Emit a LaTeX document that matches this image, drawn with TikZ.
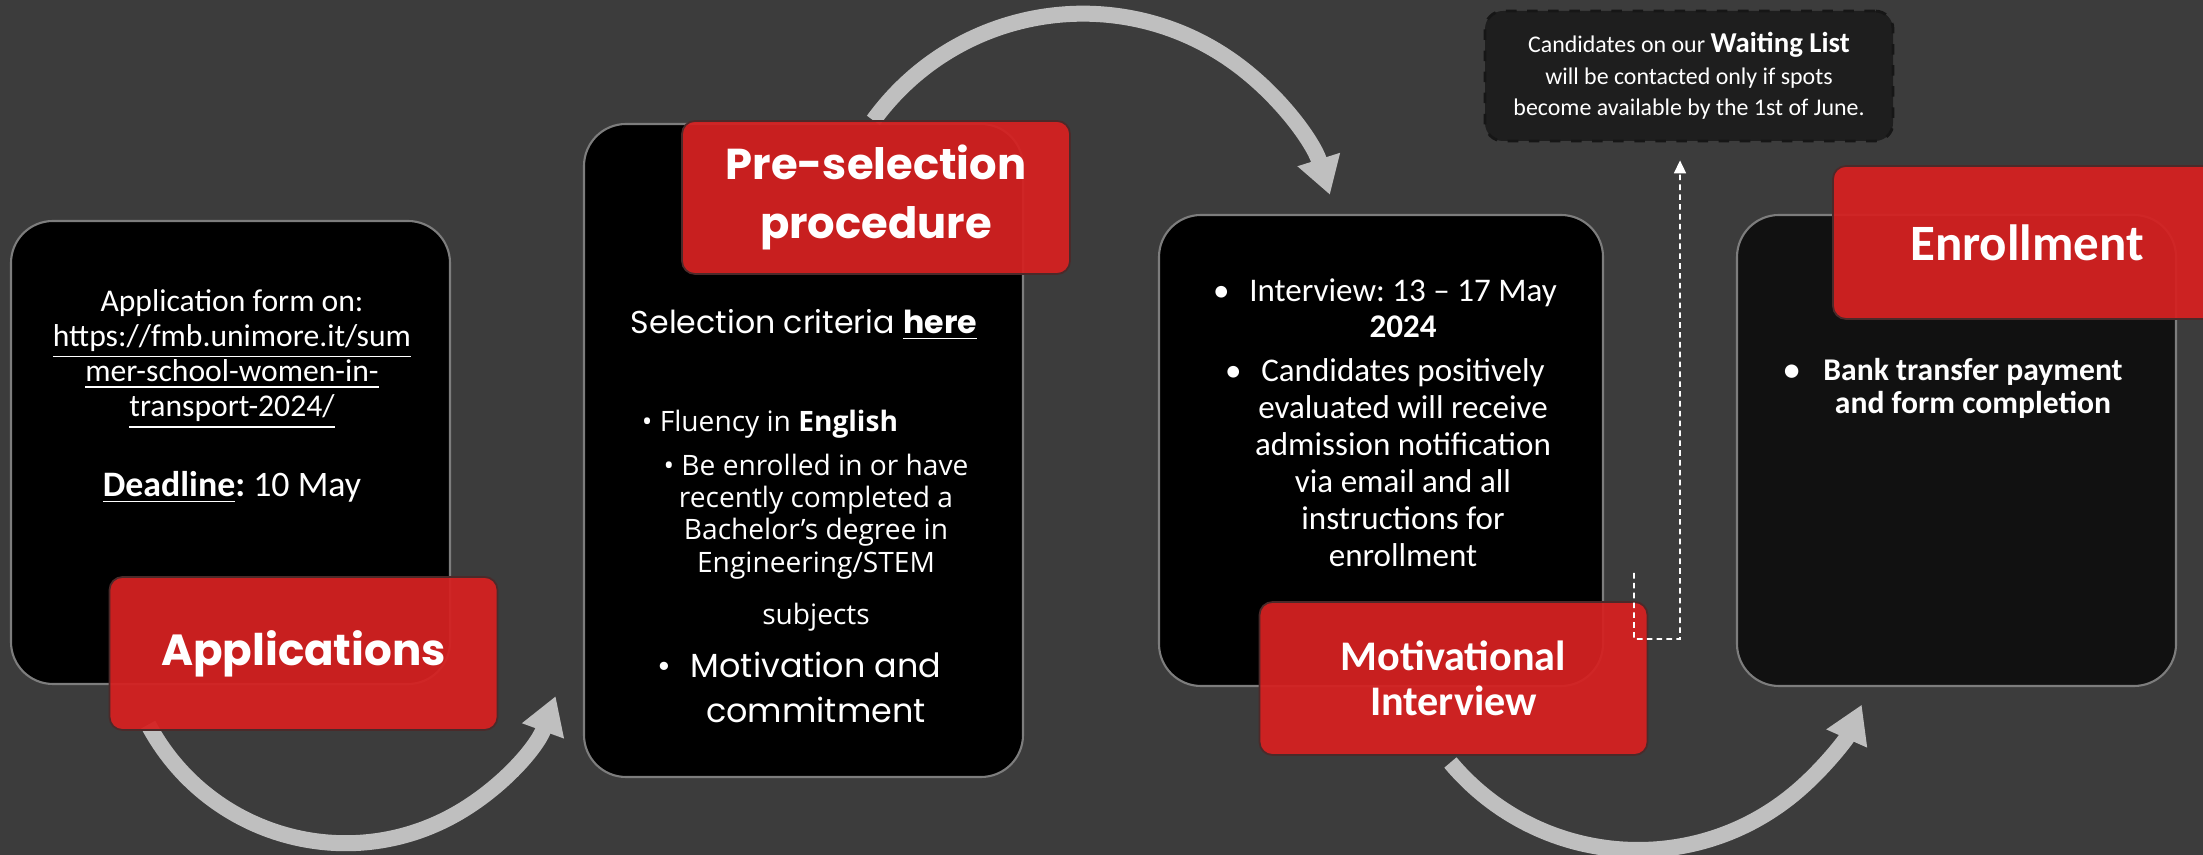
\documentclass[tikz,border=0pt]{standalone}
\usepackage{fontspec}
\setmainfont{Carlito}
\newfontfamily\popfont{Poppins}
\newfontfamily\opsfont{Open Sans}
\usetikzlibrary{arrows.meta}
\frenchspacing

\definecolor{bgcol}{RGB}{60,60,60}
\definecolor{cardred}{RGB}{213,33,33}
\definecolor{tagline}{RGB}{75,42,42}
\definecolor{cardline}{RGB}{125,125,125}
\definecolor{flowgray}{RGB}{191,191,191}
\definecolor{waitfill}{RGB}{30,30,30}
\definecolor{waitline}{RGB}{22,22,22}
\definecolor{enrolfill}{RGB}{17,17,17}

\tikzset{
	card/.style={draw=cardline, line width=0.6pt, fill=black, rounded corners=0.42cm, inner sep=0pt},
	tag/.style={fill=cardred, fill opacity=0.94, text opacity=1, draw=tagline, line width=0.5pt, rounded corners=0.13cm, minimum width=3.88cm, minimum height=1.53cm, text=white, align=center, inner sep=0pt},
	waitbox/.style={fill=waitfill, draw=waitline, dashed, line width=0.8pt, rounded corners=0.18cm, text=white, align=center, inner sep=0pt},
	flow/.style={draw=flowgray, line width=0.16cm, -{Triangle[length=0.37cm,width=0.42cm]}},
	dashlink/.style={draw=white, line width=0.45pt, dash pattern=on 1.6pt off 1.2pt, -{Triangle[length=1.3mm,width=1.2mm]}},
	txt/.style={text=white, align=center, inner sep=0pt}
}

\begin{document}
\begin{tikzpicture}
			%%%%% START %%%%%
			
			\useasboundingbox (0,0) rectangle (22.03,8.55);
			\clip (0,0) rectangle (22.03,8.55);
			\fill[bgcol] (0,0) rectangle (22.03,8.55);
			
			% black cards
			\node[card, minimum width=4.39cm, minimum height=4.63cm] (apply) at (2.305,4.025) {};
			\node[card, minimum width=4.39cm, minimum height=6.53cm] (presel) at (8.035,4.045) {};
			\node[card, minimum width=4.44cm, minimum height=4.71cm] (interv) at (13.81,4.045) {};
			\node[card, fill=enrolfill, minimum width=4.39cm, minimum height=4.71cm] (enrol) at (19.565,4.045) {};
			
			\node[waitbox, minimum width=4.08cm, minimum height=1.30cm, font=\fontsize{6.8}{8.9}\selectfont] (wait) at (16.89,7.79)
				{Candidates on our {\fontsize{8.2}{8.9}\selectfont\textbf{Waiting List}}\\ will be contacted only if spots\\ become available by the 1st of June.};
			
			% grey arrows
			\coordinate (arcA) at (3.456,2.353);
			\coordinate (arcB) at (10.829,5.823);
			\coordinate (arcC) at (16.38,2.499);
			\draw[flow] (arcA) ++(208:2.235) arc[start angle=208, end angle=340, radius=2.235];
			\draw[flow] (arcB) ++(144:2.59) arc[start angle=144, end angle=17.5, radius=2.59];
			\draw[flow] (arcC) ++(220:2.449) arc[start angle=220, end angle=336, radius=2.449];
			
			% red tags
			\node[tag, font=\popfont\bfseries\fontsize{12.4}{15}\selectfont] (applytag) at (3.035,2.015) {Applications};
			\node[tag, font=\popfont\bfseries\fontsize{12.3}{16.8}\selectfont] (preseltag) at (8.76,6.575) {Pre-selection\\procedure};
			\node[tag, font=\bfseries\fontsize{12}{12.8}\selectfont] (intervtag) at (14.535,1.765) {Motivational\\Interview};
			\node[tag, font=\bfseries\fontsize{14.5}{16}\selectfont] (enroltag) at (20.27,6.125) {Enrollment};
			
			% waiting list link
			\coordinate (wstart) at (16.34,2.82);
			\coordinate (wbend) at (16.80,2.16);
			\draw[dashlink] (wstart) |- (wbend) -- ([xshift=-0.09cm,yshift=-0.18cm]wait.south);
			
			% card texts
			\node[txt, font=\fontsize{9}{10}\selectfont] (applytext) at (2.32,4.585)
				{Application form on:\\ \underline{https://fmb.unimore.it/sum}\\ \underline{mer-school-women-in-}\\ \underline{transport-2024/}\\[11pt]
				{\fontsize{10.2}{11}\selectfont\textbf{\underline{Deadline}:} 10 May}};
			
			\node[txt, font=\popfont\fontsize{9}{11}\selectfont] (crit) at (8.04,5.30) {Selection criteria \textbf{\underline{here}}};
			\node[txt, font=\opsfont\fontsize{8}{9.2}\selectfont] (fluent) at (7.70,4.31) {\textbullet\ Fluency in \textbf{English}};
			\node[txt, font=\opsfont\fontsize{8}{9.2}\selectfont] (degree) at (8.16,3.125)
				{\textbullet\ Be enrolled in or have\\ recently completed a\\ Bachelor’s degree in\\ Engineering/STEM\\[5.7pt] subjects};
			\node[txt, font=\popfont\fontsize{9.5}{12.8}\selectfont] (motiv) at (8.16,1.675) {\llap{\textbullet\hspace{0.6em}}Motivation and\\ commitment};
			
			\node[txt, font=\fontsize{9.4}{10.5}\selectfont] (intertext) at (14.03,4.325)
				{\llap{\textbullet\hspace{0.6em}}Interview: 13 -- 17 May\\ \textbf{2024}\\[2pt]
				\llap{\textbullet\hspace{0.6em}}Candidates positively\\ evaluated will receive\\ admission notification\\ via email and all\\ instructions for\\ enrollment};
			
			\node[txt, font=\bfseries\fontsize{9}{9.4}\selectfont] (enroltext) at (19.73,4.665)
				{\llap{\textbullet\hspace{0.75em}}Bank transfer payment\\ and form completion};
			
			%%%%% END %%%%%
\end{tikzpicture}
\end{document}
